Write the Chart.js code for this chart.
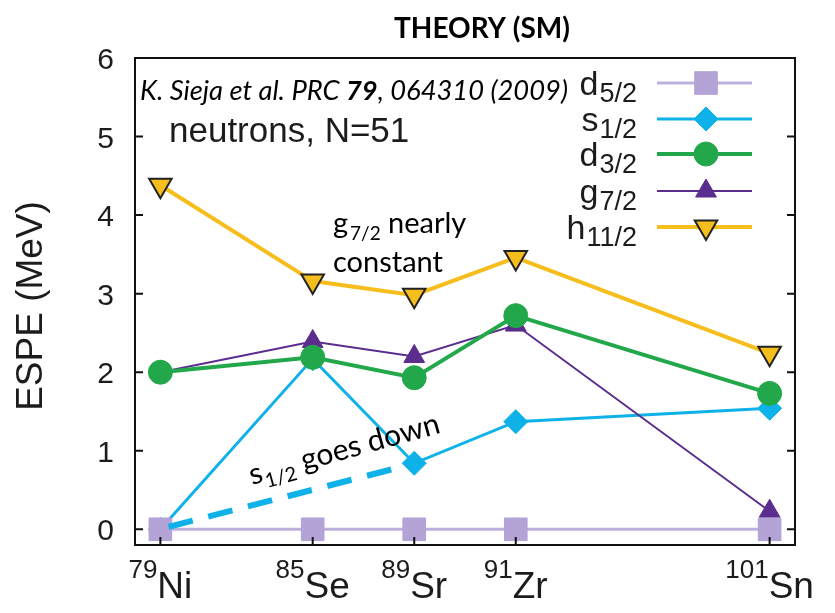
<!DOCTYPE html>
<html lang="en">
<head>
<meta charset="UTF-8">
<title>ESPE neutrons N=51 - Theory (SM)</title>
<script src="https://cdn.jsdelivr.net/npm/chart.js"></script>
<style>
    html, body {
        margin: 0;
        padding: 0;
        background: #ffffff;
    }
    .chart-container {
        position: relative;
        width: 835px;
        height: 613px;
    }
</style>
</head>
<body>
<div class="chart-container">
    <canvas id="espeChart"></canvas>
</div>
<script>
// nuclei along the x axis (N = 51 isotones)
const massNumbers = ['79', '85', '89', '91', '101'];
const elements = ['Ni', 'Se', 'Sr', 'Zr', 'Sn'];
const xPositions = [0, 1.5, 2.5, 3.5, 6];
const yTicks = [0, 1, 2, 3, 4, 5, 6];

// ESPE values in MeV
const d52 = [0, 0, 0, 0, 0];
const s12 = [0, 2.17, 0.84, 1.37, 1.54];
const d32 = [2.0, 2.19, 1.93, 2.72, 1.73];
const g72 = [2.0, 2.39, 2.2, 2.6, 0.23];
const h112 = [4.38, 3.16, 2.98, 3.46, 2.24];

// hand drawn dashed arrow "s1/2 goes down"
const arrowX = [0.08, 2.33];
const arrowY = [0.03, 0.78];

const colors = {
    d52: '#b3a3d6',
    d52Line: '#bdb0dc',
    s12: '#0fb2e8',
    d32: '#22a84b',
    g72: '#5b2d8e',
    h112: '#f6be1c',
    text: '#1c1c1c'
};

const series = [
    { letter: 'd', sub: '5/2', values: d52, color: colors.d52, line: colors.d52Line, style: 'rect', radius: 16, width: 3, order: 1 },
    { letter: 's', sub: '1/2', values: s12, color: colors.s12, line: colors.s12, style: 'rectRot', radius: 12, width: 3, order: 5 },
    { letter: 'd', sub: '3/2', values: d32, color: colors.d32, line: colors.d32, style: 'circle', radius: 12, width: 4, order: 2 },
    { letter: 'g', sub: '7/2', values: g72, color: colors.g72, line: colors.g72, style: 'triangle', radius: 12, width: 2, order: 4 },
    { letter: 'h', sub: '11/2', values: h112, color: colors.h112, line: colors.h112, style: 'triangle', rotation: 180, radius: 13, width: 4, order: 3, edge: '#222222' }
];

const toPoints = (xs, ys) => xs.map((x, i) => ({ x: x, y: ys[i] }));

const datasets = series.map(s => ({
    label: s.letter + s.sub,
    data: toPoints(xPositions, s.values),
    showLine: true,
    borderColor: s.line,
    borderWidth: s.width,
    backgroundColor: s.color,
    pointBackgroundColor: s.color,
    pointBorderColor: s.edge || s.color,
    pointBorderWidth: s.edge ? 2 : 1,
    pointStyle: s.style,
    pointRotation: s.rotation || 0,
    pointRadius: s.radius,
    tension: 0,
    order: s.order
}));

datasets.push({
    label: 'arrow',
    data: toPoints(arrowX, arrowY),
    showLine: true,
    borderColor: colors.s12,
    borderWidth: 6,
    borderDash: [25, 16],
    pointRadius: 0,
    order: 0
});

// small marker drawer for the legend (same geometry as Chart.js)
function drawMarker(ctx, s, x, y) {
    const r = s.radius;
    ctx.save();
    ctx.fillStyle = s.color;
    ctx.strokeStyle = s.edge || s.color;
    ctx.lineWidth = s.edge ? 2 : 1;
    ctx.beginPath();
    if (s.style === 'rect') {
        const h = Math.SQRT1_2 * r;
        ctx.rect(x - h, y - h, 2 * h, 2 * h);
    } else if (s.style === 'rectRot') {
        ctx.moveTo(x, y - r);
        ctx.lineTo(x + r, y);
        ctx.lineTo(x, y + r);
        ctx.lineTo(x - r, y);
        ctx.closePath();
    } else if (s.style === 'circle') {
        ctx.arc(x, y, r, 0, Math.PI * 2);
    } else {
        let a = (s.rotation || 0) * Math.PI / 180;
        ctx.moveTo(x + Math.sin(a) * r, y - Math.cos(a) * r);
        a += Math.PI * 2 / 3;
        ctx.lineTo(x + Math.sin(a) * r, y - Math.cos(a) * r);
        a += Math.PI * 2 / 3;
        ctx.lineTo(x + Math.sin(a) * r, y - Math.cos(a) * r);
        ctx.closePath();
    }
    ctx.fill();
    ctx.stroke();
    ctx.restore();
}

const decorations = {
    id: 'decorations',
    afterDraw(chart) {
        const ctx = chart.ctx;
        const area = chart.chartArea;
        const xs = chart.scales.x;
        const ys = chart.scales.y;
        ctx.save();

        // frame
        ctx.strokeStyle = '#111111';
        ctx.lineWidth = 2;
        ctx.strokeRect(area.left, area.top, area.right - area.left, area.bottom - area.top);

        // inward ticks
        ctx.beginPath();
        yTicks.forEach(v => {
            const py = ys.getPixelForValue(v);
            ctx.moveTo(area.left, py); ctx.lineTo(area.left + 8, py);
            ctx.moveTo(area.right, py); ctx.lineTo(area.right - 8, py);
        });
        xPositions.forEach(v => {
            const px = xs.getPixelForValue(v);
            ctx.moveTo(px, area.bottom); ctx.lineTo(px, area.bottom - 8);
        });
        ctx.stroke();

        ctx.fillStyle = colors.text;

        // y tick labels
        ctx.font = '30px "Liberation Sans", Arial, sans-serif';
        ctx.textAlign = 'right';
        ctx.textBaseline = 'alphabetic';
        yTicks.forEach(v => {
            ctx.fillText(String(v), 114, ys.getPixelForValue(v) + 11);
        });

        // x tick labels with superscript mass numbers
        ctx.textAlign = 'left';
        massNumbers.forEach((m, i) => {
            const px = xs.getPixelForValue(xPositions[i]);
            ctx.font = '26px "Liberation Sans", Arial, sans-serif';
            const wSup = ctx.measureText(m).width;
            ctx.font = '37px "Liberation Sans", Arial, sans-serif';
            const wMain = ctx.measureText(elements[i]).width;
            const x0 = px - (wSup + wMain) / 2;
            ctx.font = '26px "Liberation Sans", Arial, sans-serif';
            ctx.fillText(m, x0, 578);
            ctx.font = '37px "Liberation Sans", Arial, sans-serif';
            ctx.fillText(elements[i], x0 + wSup, 598);
        });

        // y axis title
        ctx.save();
        ctx.translate(42, 306);
        ctx.rotate(-Math.PI / 2);
        ctx.textAlign = 'center';
        ctx.font = '37px "Liberation Sans", Arial, sans-serif';
        ctx.fillText('ESPE (MeV)', 0, 0);
        ctx.restore();

        // title
        ctx.textAlign = 'center';
        ctx.font = 'bold 28px Lato, sans-serif';
        ctx.fillStyle = '#000000';
        ctx.fillText('THEORY (SM)', 482, 38);

        // citation, sized to span the same width as the original
        ctx.textAlign = 'left';
        const cite = [
            ['K. Sieja et al. PRC ', 'italic'],
            ['79', 'italic bold'],
            [', 064310 (2009)', 'italic']
        ];
        const citeWidth = size => cite.reduce((w, p) => {
            ctx.font = p[1] + ' ' + size + 'px Lato, sans-serif';
            return w + ctx.measureText(p[0]).width;
        }, 0);
        const citeSize = 24 * 428 / citeWidth(24);
        let cx = 140;
        cite.forEach(p => {
            ctx.font = p[1] + ' ' + citeSize + 'px Lato, sans-serif';
            ctx.fillText(p[0], cx, 100);
            cx += ctx.measureText(p[0]).width;
        });

        ctx.fillStyle = colors.text;
        ctx.font = '35px "Liberation Sans", Arial, sans-serif';
        ctx.fillText('neutrons, N=51', 169, 142);

        // legend
        const rows = [83, 119, 154, 191, 227];
        series.forEach((s, i) => {
            const y = rows[i];
            ctx.font = '27px "Liberation Sans", Arial, sans-serif';
            const wSub = ctx.measureText(s.sub).width;
            ctx.textAlign = 'right';
            ctx.fillStyle = colors.text;
            ctx.fillText(s.sub, 637, y + 19);
            ctx.font = '34px "Liberation Sans", Arial, sans-serif';
            ctx.fillText(s.letter, 637 - wSub - 1, y + 12);
            ctx.strokeStyle = s.line;
            ctx.lineWidth = s.width;
            ctx.beginPath();
            ctx.moveTo(657, y);
            ctx.lineTo(752, y);
            ctx.stroke();
            drawMarker(ctx, s, 706, y);
        });

        // annotation: g7/2 nearly constant
        ctx.textAlign = 'left';
        ctx.fillStyle = '#000000';
        ctx.font = '29px Lato, sans-serif';
        ctx.fillText('g', 333, 233);
        const gx = 333 + ctx.measureText('g').width + 2;
        ctx.font = '19px Lato, sans-serif';
        ctx.fillText('7/2', gx, 240);
        ctx.font = '29px Lato, sans-serif';
        ctx.fillText('nearly', 388, 233);
        ctx.fillText('constant', 333, 272);

        // annotation: s1/2 goes down (tilted)
        ctx.save();
        ctx.translate(252, 485);
        ctx.rotate(-15.5 * Math.PI / 180);
        ctx.font = '30px Lato, sans-serif';
        ctx.fillText('s', 0, 0);
        let sx = ctx.measureText('s').width + 1;
        ctx.font = '20px Lato, sans-serif';
        ctx.fillText('1/2', sx, 7);
        sx += ctx.measureText('1/2').width;
        ctx.font = '30px Lato, sans-serif';
        ctx.fillText(' goes down', sx, 0);
        ctx.restore();

        ctx.restore();
    }
};

new Chart(document.getElementById('espeChart').getContext('2d'), {
    type: 'scatter',
    data: { datasets: datasets },
    options: {
        responsive: true,
        maintainAspectRatio: false,
        animation: false,
        events: [],
        layout: { padding: { left: 135, right: 40, top: 58, bottom: 68 } },
        scales: {
            x: { type: 'linear', min: -0.25, max: 6.25, display: false },
            y: { type: 'linear', min: -0.2, max: 6, display: false }
        },
        plugins: {
            legend: { display: false },
            tooltip: { enabled: false }
        }
    },
    plugins: [decorations]
});
</script>
</body>
</html>
